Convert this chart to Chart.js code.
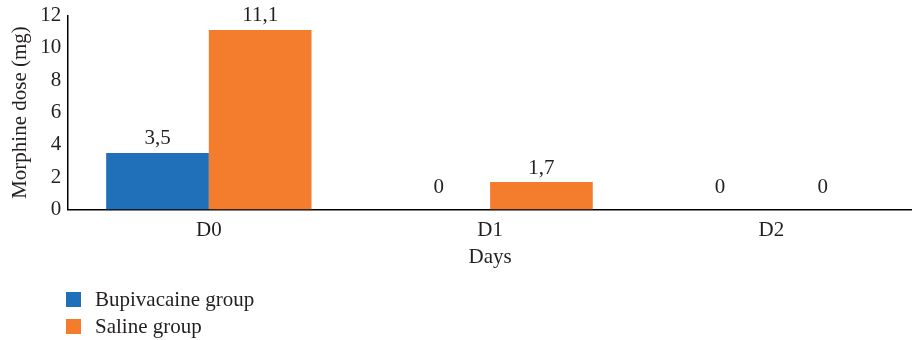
<!DOCTYPE html>
<html>
<head>
<meta charset="utf-8">
<script src="https://cdn.jsdelivr.net/npm/chart.js@4"></script>
<style>
  html, body { margin: 0; padding: 0; background: #fff; }
  #wrap { width: 912px; height: 340px; position: relative; }
</style>
</head>
<body>
<div id="wrap"><canvas id="myChart" width="912" height="340"></canvas></div>
<script>
const days = ['D0', 'D1', 'D2'];
const bupivacaine = [3.5, 0, 0];
const saline = [11.1, 1.7, 0];
const yTicks = [0, 2, 4, 6, 8, 10, 12];

const txt = '#231f20';
const serif = "'Liberation Serif', 'DejaVu Serif', serif";
const fs = 21;

// value labels above the bars, with a decimal comma
const barLabels = {
  id: 'barLabels',
  afterDatasetsDraw(chart) {
    const ctx = chart.ctx;
    ctx.save();
    ctx.font = fs + 'px ' + serif;
    ctx.fillStyle = txt;
    ctx.textAlign = 'center';
    ctx.textBaseline = 'middle';
    chart.data.datasets.forEach((ds, i) => {
      chart.getDatasetMeta(i).data.forEach((bar, j) => {
        let v = ds.data[j];
        let y = bar.y - 14;
        if (v === 0) y = bar.y - 22;
        ctx.fillText(String(v).replace('.', ','), bar.x, y);
      });
    });
    ctx.restore();
  }
};

// legend stacked at bottom left
const sideLegend = {
  id: 'sideLegend',
  afterDraw(chart) {
    const ctx = chart.ctx;
    ctx.save();
    ctx.font = fs + 'px ' + serif;
    ctx.textBaseline = 'middle';
    chart.data.datasets.forEach((ds, i) => {
      let y = 300 + i * 27;
      ctx.fillStyle = ds.backgroundColor;
      ctx.fillRect(66, y - 8, 15, 15);
      ctx.fillStyle = txt;
      ctx.fillText(ds.label, 95, y);
    });
    ctx.restore();
  }
};

var ctx = document.getElementById('myChart').getContext('2d');
var myChart = new Chart(ctx, {
  type: 'bar',
  data: {
    labels: days,
    datasets: [{
      label: 'Bupivacaine group',
      data: bupivacaine,
      backgroundColor: '#1f70b9'
    }, {
      label: 'Saline group',
      data: saline,
      backgroundColor: '#f47d2d'
    }]
  },
  options: {
    responsive: false,
    animation: false,
    devicePixelRatio: 1,
    layout: { padding: { top: 3, right: 0, left: 2, bottom: 66 } },
    categoryPercentage: 0.73,
    barPercentage: 1,
    plugins: {
      legend: { display: false },
      tooltip: { enabled: false }
    },
    scales: {
      x: {
        grid: { display: false },
        border: { display: true, color: '#000', width: 1.5 },
        ticks: { color: txt, font: { family: serif, size: fs }, padding: 0 },
        title: { display: true, text: 'Days', color: txt, font: { family: serif, size: fs }, padding: { top: 2 } }
      },
      y: {
        min: 0,
        max: 12,
        afterBuildTicks(axis) { axis.ticks = yTicks.map(v => ({ value: v })); },
        grid: { display: false, drawTicks: false },
        border: { display: true, color: '#000', width: 1.5 },
        ticks: { color: txt, font: { family: serif, size: fs, lineHeight: 0.8 }, padding: 7 },
        title: { display: true, text: 'Morphine dose (mg)', color: txt, font: { family: serif, size: fs }, padding: { top: 6, bottom: 0 } }
      }
    }
  },
  plugins: [barLabels, sideLegend]
});
</script>
</body>
</html>
